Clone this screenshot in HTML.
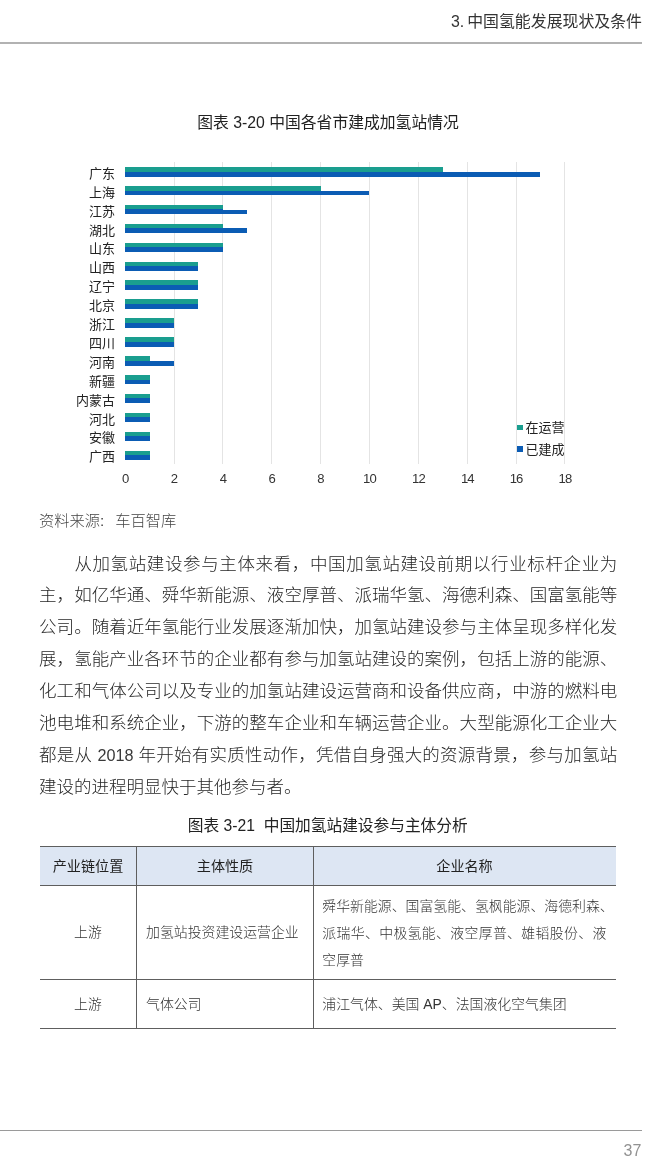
<!DOCTYPE html>
<html lang="zh-CN"><head><meta charset="utf-8"><title>3. 中国氢能发展现状及条件</title>
<style>
html,body{margin:0;padding:0;background:#fff;}
body{width:650px;height:1169px;position:relative;overflow:hidden;font-family:"Liberation Sans","Noto Sans CJK SC",sans-serif;color:#2b2b2b;}
.abs{position:absolute;white-space:nowrap;}
.hdr{right:8px;top:10.5px;font-size:15.9px;word-spacing:-1.5px;line-height:22px;color:#333;font-weight:400;}
.hline{left:0;top:42.4px;width:642px;height:1.3px;background:#b2b2b2;}
.title{left:0;width:656px;text-align:center;font-size:15.8px;line-height:22px;color:#222;font-weight:400;}
.cat{font-size:13px;line-height:16px;text-align:right;width:115px;left:0;color:#222;}
.grid{width:1px;background:#e4e4e4;top:162px;height:302px;}
.g{background:#1a9e8f;height:4.70px;}
.b{background:#0b5cb4;height:4.70px;}
.ax{font-size:13.1px;line-height:14px;width:40px;text-align:center;color:#333;top:472.3px;}
.src{left:39.1px;top:509.5px;font-size:15.25px;line-height:22px;color:#444;font-weight:300;}
.p{left:39.1px;width:578.2px;font-size:17.5px;line-height:30px;color:#262626;font-weight:300;text-align:justify;text-align-last:justify;white-space:nowrap;}
.p.last{text-align-last:left;width:auto;}
.tb{font-size:13.88px;line-height:22px;color:#333;font-weight:300;}
.th{font-size:14.1px;line-height:22px;color:#222;font-weight:400;text-align:center;}
.ln{background:#5e5e5e;}
.ft{right:8.6px;top:1142.3px;font-size:16px;line-height:18px;color:#929292;font-weight:400;}
</style></head><body>

<div class="abs hdr">3. 中国氢能发展现状及条件</div>
<div class="abs hline"></div>
<div class="abs title" style="top:112.3px">图表 3-20 中国各省市建成加氢站情况</div>
<div class="abs grid" style="left:173.6px"></div>
<div class="abs grid" style="left:222.4px"></div>
<div class="abs grid" style="left:271.3px"></div>
<div class="abs grid" style="left:320.1px"></div>
<div class="abs grid" style="left:369.0px"></div>
<div class="abs grid" style="left:417.9px"></div>
<div class="abs grid" style="left:466.7px"></div>
<div class="abs grid" style="left:515.6px"></div>
<div class="abs grid" style="left:564.4px"></div>
<div class="abs cat" style="top:165.8px">广东</div>
<div class="abs b" style="left:125.2px;top:170.70px;width:317.6px;height:1.50px"></div>
<div class="abs b" style="left:125.2px;top:171.70px;width:415.3px;height:4.90px"></div>
<div class="abs g" style="left:125.2px;top:167.00px;width:317.6px;height:4.70px"></div>
<div class="abs cat" style="top:184.7px">上海</div>
<div class="abs b" style="left:125.2px;top:189.60px;width:195.4px;height:1.50px"></div>
<div class="abs b" style="left:125.2px;top:190.60px;width:244.3px;height:4.90px"></div>
<div class="abs g" style="left:125.2px;top:185.90px;width:195.4px;height:4.70px"></div>
<div class="abs cat" style="top:203.6px">江苏</div>
<div class="abs b" style="left:125.2px;top:208.50px;width:97.7px;height:1.50px"></div>
<div class="abs b" style="left:125.2px;top:209.50px;width:122.2px;height:4.90px"></div>
<div class="abs g" style="left:125.2px;top:204.80px;width:97.7px;height:4.70px"></div>
<div class="abs cat" style="top:222.5px">湖北</div>
<div class="abs b" style="left:125.2px;top:227.40px;width:97.7px;height:1.50px"></div>
<div class="abs b" style="left:125.2px;top:228.40px;width:122.2px;height:4.90px"></div>
<div class="abs g" style="left:125.2px;top:223.70px;width:97.7px;height:4.70px"></div>
<div class="abs cat" style="top:241.4px">山东</div>
<div class="abs b" style="left:125.2px;top:246.30px;width:97.7px;height:1.50px"></div>
<div class="abs b" style="left:125.2px;top:247.30px;width:97.7px;height:4.90px"></div>
<div class="abs g" style="left:125.2px;top:242.60px;width:97.7px;height:4.70px"></div>
<div class="abs cat" style="top:260.3px">山西</div>
<div class="abs b" style="left:125.2px;top:265.20px;width:73.3px;height:1.50px"></div>
<div class="abs b" style="left:125.2px;top:266.20px;width:73.3px;height:4.90px"></div>
<div class="abs g" style="left:125.2px;top:261.50px;width:73.3px;height:4.70px"></div>
<div class="abs cat" style="top:279.2px">辽宁</div>
<div class="abs b" style="left:125.2px;top:284.10px;width:73.3px;height:1.50px"></div>
<div class="abs b" style="left:125.2px;top:285.10px;width:73.3px;height:4.90px"></div>
<div class="abs g" style="left:125.2px;top:280.40px;width:73.3px;height:4.70px"></div>
<div class="abs cat" style="top:298.1px">北京</div>
<div class="abs b" style="left:125.2px;top:303.00px;width:73.3px;height:1.50px"></div>
<div class="abs b" style="left:125.2px;top:304.00px;width:73.3px;height:4.90px"></div>
<div class="abs g" style="left:125.2px;top:299.30px;width:73.3px;height:4.70px"></div>
<div class="abs cat" style="top:317.0px">浙江</div>
<div class="abs b" style="left:125.2px;top:321.90px;width:48.9px;height:1.50px"></div>
<div class="abs b" style="left:125.2px;top:322.90px;width:48.9px;height:4.90px"></div>
<div class="abs g" style="left:125.2px;top:318.20px;width:48.9px;height:4.70px"></div>
<div class="abs cat" style="top:335.9px">四川</div>
<div class="abs b" style="left:125.2px;top:340.80px;width:48.9px;height:1.50px"></div>
<div class="abs b" style="left:125.2px;top:341.80px;width:48.9px;height:4.90px"></div>
<div class="abs g" style="left:125.2px;top:337.10px;width:48.9px;height:4.70px"></div>
<div class="abs cat" style="top:354.8px">河南</div>
<div class="abs b" style="left:125.2px;top:359.70px;width:24.4px;height:1.50px"></div>
<div class="abs b" style="left:125.2px;top:360.70px;width:48.9px;height:4.90px"></div>
<div class="abs g" style="left:125.2px;top:356.00px;width:24.4px;height:4.70px"></div>
<div class="abs cat" style="top:373.7px">新疆</div>
<div class="abs b" style="left:125.2px;top:378.60px;width:24.4px;height:1.50px"></div>
<div class="abs b" style="left:125.2px;top:379.60px;width:24.4px;height:4.90px"></div>
<div class="abs g" style="left:125.2px;top:374.90px;width:24.4px;height:4.70px"></div>
<div class="abs cat" style="top:392.6px">内蒙古</div>
<div class="abs b" style="left:125.2px;top:397.50px;width:24.4px;height:1.50px"></div>
<div class="abs b" style="left:125.2px;top:398.50px;width:24.4px;height:4.90px"></div>
<div class="abs g" style="left:125.2px;top:393.80px;width:24.4px;height:4.70px"></div>
<div class="abs cat" style="top:411.5px">河北</div>
<div class="abs b" style="left:125.2px;top:416.40px;width:24.4px;height:1.50px"></div>
<div class="abs b" style="left:125.2px;top:417.40px;width:24.4px;height:4.90px"></div>
<div class="abs g" style="left:125.2px;top:412.70px;width:24.4px;height:4.70px"></div>
<div class="abs cat" style="top:430.4px">安徽</div>
<div class="abs b" style="left:125.2px;top:435.30px;width:24.4px;height:1.50px"></div>
<div class="abs b" style="left:125.2px;top:436.30px;width:24.4px;height:4.90px"></div>
<div class="abs g" style="left:125.2px;top:431.60px;width:24.4px;height:4.70px"></div>
<div class="abs cat" style="top:449.3px">广西</div>
<div class="abs b" style="left:125.2px;top:454.20px;width:24.4px;height:1.50px"></div>
<div class="abs b" style="left:125.2px;top:455.20px;width:24.4px;height:4.90px"></div>
<div class="abs g" style="left:125.2px;top:450.50px;width:24.4px;height:4.70px"></div>
<div class="abs ax" style="left:105.6px;">0</div>
<div class="abs ax" style="left:154.5px;">2</div>
<div class="abs ax" style="left:203.3px;">4</div>
<div class="abs ax" style="left:252.2px;">6</div>
<div class="abs ax" style="left:301.0px;">8</div>
<div class="abs ax" style="left:349.5px;letter-spacing:-0.9px;">10</div>
<div class="abs ax" style="left:398.4px;letter-spacing:-0.9px;">12</div>
<div class="abs ax" style="left:447.3px;letter-spacing:-0.9px;">14</div>
<div class="abs ax" style="left:496.1px;letter-spacing:-0.9px;">16</div>
<div class="abs ax" style="left:545.0px;letter-spacing:-0.9px;">18</div>
<div class="abs" style="left:516.8px;top:424.6px;width:5.8px;height:5.8px;background:#1a9e8f"></div>
<div class="abs" style="left:516.8px;top:445.8px;width:5.8px;height:5.8px;background:#0b5cb4"></div>
<div class="abs" style="left:525.5px;top:419.2px;font-size:13px;line-height:18px;color:#222">在运营</div>
<div class="abs" style="left:525.5px;top:440.7px;font-size:13px;line-height:18px;color:#222">已建成</div>
<div class="abs src">资料来源:<span style="display:inline-block;width:11px"></span>车百智库</div>
<div class="abs p" style="top:548.5px;left:74.4px;width:542.9px;">从加氢站建设参与主体来看，中国加氢站建设前期以行业标杆企业为</div>
<div class="abs p" style="top:580.4px;">主，如亿华通、舜华新能源、液空厚普、派瑞华氢、海德利森、国富氢能等</div>
<div class="abs p" style="top:612.4px;">公司。随着近年氢能行业发展逐渐加快，加氢站建设参与主体呈现多样化发</div>
<div class="abs p" style="top:644.3px;">展，氢能产业各环节的企业都有参与加氢站建设的案例，包括上游的能源、</div>
<div class="abs p" style="top:676.2px;">化工和气体公司以及专业的加氢站建设运营商和设备供应商，中游的燃料电</div>
<div class="abs p" style="top:708.1px;">池电堆和系统企业，下游的整车企业和车辆运营企业。大型能源化工企业大</div>
<div class="abs p" style="top:740.1px;">都是从 <span style="font-size:16.2px;color:#3a3a3a">2018</span> 年开始有实质性动作，凭借自身强大的资源背景，参与加氢站</div>
<div class="abs p last" style="top:772.0px;">建设的进程明显快于其他参与者。</div>
<div class="abs title" style="top:815px;left:0;width:655.5px;font-size:15.7px">图表 3-21&nbsp; 中国加氢站建设参与主体分析</div>
<div class="abs" style="left:40.1px;top:847px;width:575.8px;height:38px;background:#dde6f3"></div>
<div class="abs ln" style="left:40.1px;top:845.5px;width:575.8px;height:1.2px"></div>
<div class="abs ln" style="left:40.1px;top:884.8px;width:575.8px;height:1.2px"></div>
<div class="abs ln" style="left:40.1px;top:979.1px;width:575.8px;height:1.2px"></div>
<div class="abs ln" style="left:40.1px;top:1028.2px;width:575.8px;height:1.2px"></div>
<div class="abs ln" style="left:135.6px;top:847px;width:1.2px;height:182px"></div>
<div class="abs ln" style="left:312.9px;top:847px;width:1.2px;height:182px"></div>
<div class="abs th" style="left:40px;width:96px;top:854.6px">产业链位置</div>
<div class="abs th" style="left:137px;width:176px;top:854.6px">主体性质</div>
<div class="abs th" style="left:314px;width:301px;top:854.6px">企业名称</div>
<div class="abs tb" style="left:40px;width:96px;text-align:center;top:921.3px">上游</div>
<div class="abs tb" style="left:146px;top:921.3px">加氢站投资建设运营企业</div>
<div class="abs tb" style="left:322.3px;top:894.5px">舜华新能源、国富氢能、氢枫能源、海德利森、</div>
<div class="abs tb" style="left:322.3px;top:921.5px;width:284px;text-align:justify;text-align-last:justify">派瑞华、中极氢能、液空厚普、雄韬股份、液</div>
<div class="abs tb" style="left:322.3px;top:949px">空厚普</div>
<div class="abs tb" style="left:40px;width:96px;text-align:center;top:993.3px">上游</div>
<div class="abs tb" style="left:146px;top:993.3px">气体公司</div>
<div class="abs tb" style="left:322.3px;top:993.2px">浦江气体、美国 AP、法国液化空气集团</div>
<div class="abs" style="left:0;top:1129.6px;width:642px;height:1px;background:#9a9a9a"></div>
<div class="abs ft">37</div>
</body></html>
